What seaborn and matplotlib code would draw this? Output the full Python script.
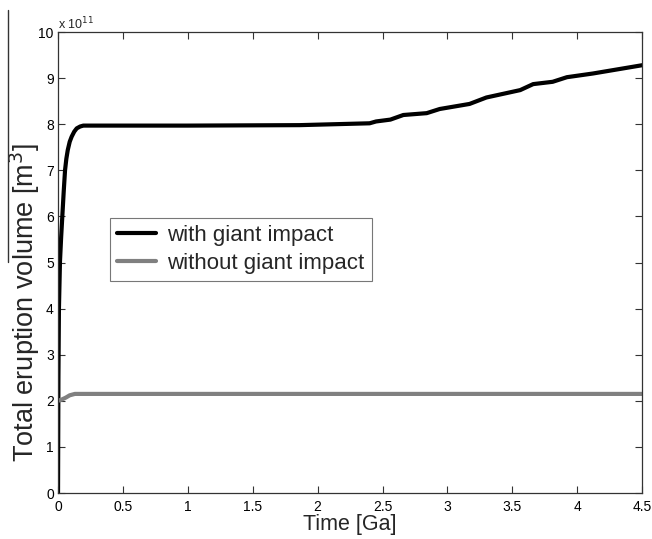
import numpy as np
import pandas as pd
import matplotlib
matplotlib.use("Agg")
import matplotlib.pyplot as plt
from matplotlib.lines import Line2D
import seaborn as sns

# total eruption volume, in units of 1e11 m^3
t_with = [0, 0.003, 0.007, 0.015, 0.024, 0.033, 0.044, 0.054, 0.064, 0.075, 0.09, 0.105,
          0.125, 0.144, 0.17, 0.195, 0.3, 1.0, 1.86,
          2.40, 2.45, 2.56, 2.66, 2.84, 2.94, 3.17, 3.30, 3.56, 3.66, 3.81, 3.92, 4.12, 4.5]
v_with = [0, 2.5, 4.0, 5.02, 5.55, 6.0, 6.55, 7.0, 7.25, 7.44, 7.62, 7.73,
          7.84, 7.91, 7.95, 7.97, 7.97, 7.97, 7.98,
          8.02, 8.06, 8.10, 8.20, 8.24, 8.33, 8.44, 8.58, 8.74, 8.87, 8.92, 9.02, 9.10, 9.28]
t_without = [0, 0.03, 0.06, 0.09, 0.13, 0.5, 4.5]
v_without = [2.0, 2.03, 2.07, 2.12, 2.15, 2.15, 2.15]

labels = ["with giant impact", "without giant impact"]
x_ticks = [0, 0.5, 1, 1.5, 2, 2.5, 3, 3.5, 4, 4.5]
y_ticks = list(range(0, 11))

df = pd.DataFrame({
    "time": t_with + t_without,
    "vol": v_with + v_without,
    "case": [labels[0]] * len(t_with) + [labels[1]] * len(t_without),
})

sns.set_style("ticks")
plt.rcParams["font.family"] = ["Liberation Sans", "DejaVu Sans"]

fig = plt.figure(figsize=(6.52, 5.39), dpi=100)
ax = fig.add_axes([0.089, 0.0853, 0.896, 0.8553])

sns.lineplot(data=df, x="time", y="vol", hue="case", sort=False, estimator=None,
             palette={labels[0]: "black", labels[1]: "#808080"}, linewidth=3, ax=ax)

ax.set_xlim(0, 4.5)
ax.set_ylim(0, 10)
ax.set_xticks(x_ticks)
ax.set_xticklabels([f"{v:g}" for v in x_ticks])
ax.set_yticks(y_ticks)
ax.tick_params(direction="in", length=5, width=0.8, top=True, right=True,
               labelsize=10, colors="#333333", labelcolor="black")
ax.tick_params(axis="x", pad=5)
ax.tick_params(axis="y", pad=3)
for s in ax.spines.values():
    s.set_color("#333333")
    s.set_linewidth(0.9)

ax.set_xlabel("Time [Ga]", fontsize=15.5, labelpad=0)
ax.set_ylabel("Total eruption volume [m$^3$]", fontsize=19.5)
ax.yaxis.set_label_coords(-0.027, 0.414)
ax.text(0.0, 1.0, r"x 10$^{11}$", transform=ax.transAxes, fontsize=9,
        ha="left", va="bottom")

leg = ax.legend(loc="upper left", bbox_to_anchor=(0.089, 0.597), borderaxespad=0,
                fontsize=16, frameon=True, fancybox=False, handlelength=1.75,
                borderpad=0.33, labelspacing=0.3, handletextpad=0.5)
leg.get_frame().set_edgecolor("#555555")
leg.get_frame().set_linewidth(0.8)

# stray vertical rule at the left edge of the scanned figure
fig.add_artist(Line2D([0.0123, 0.0123], [0.981, 0.514], transform=fig.transFigure,
                      color="#333333", linewidth=1))

fig.savefig("out.png", dpi=100)
